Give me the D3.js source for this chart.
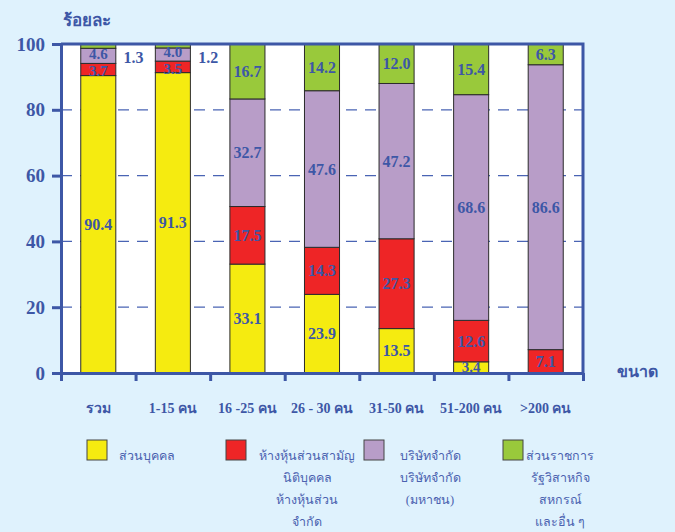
<!DOCTYPE html>
<html>
<head>
<meta charset="utf-8">
<script src="https://cdn.jsdelivr.net/npm/d3@7"></script>
<style>
  body { margin: 0; background: #dff2fd; }
  svg { display: block; }
  .val { font-family: "Liberation Serif", "DejaVu Serif", serif; font-weight: bold; font-size: 16px; fill: #3d57a6; }
  .axis text { font-family: "Liberation Serif", "DejaVu Serif", serif; font-weight: bold; fill: #3d57a6; }
  .legend text { font-family: "Liberation Serif", "Noto Sans", sans-serif; font-size: 12.5px; fill: #4b62b0; }
</style>
</head>
<body>
<div id="chart"></div>
<script>
const categories = ['รวม', '1-15 คน', '16 -25 คน', '26 - 30 คน', '31-50 คน', '51-200 คน', '>200 คน'];
const individual = [90.4, 91.3, 33.1, 23.9, 13.5, 3.4, 0];
const partnership = [3.7, 3.5, 17.5, 14.3, 27.3, 12.6, 7.1];
const company = [4.6, 4.0, 32.7, 47.6, 47.2, 68.6, 86.6];
const government = [1.3, 1.2, 16.7, 14.2, 12.0, 15.4, 6.3];
const yTicks = [0, 20, 40, 60, 80, 100];

const seriesKeys = ['individual', 'partnership', 'company', 'government'];
const seriesColors = ['#f5eb10', '#ee2526', '#b89dc8', '#99c93b'];
const legendLabels = [
    ['ส่วนบุคคล'],
    ['ห้างหุ้นส่วนสามัญ', 'นิติบุคคล', 'ห้างหุ้นส่วน', 'จำกัด'],
    ['บริษัทจำกัด', 'บริษัทจำกัด', '(มหาชน)'],
    ['ส่วนราชการ', 'รัฐวิสาหกิจ', 'สหกรณ์', 'และอื่น ๆ']
];

const rows = categories.map(function(c, i) {
    return {
        cat: c,
        individual: individual[i],
        partnership: partnership[i],
        company: company[i],
        government: government[i]
    };
});

const W = 675, H = 532;
const plotL = 61, plotR = 583, plotT = 44, plotB = 373;
const blue = '#3d57a6';

const svg = d3.select('#chart').append('svg')
    .attr('width', W)
    .attr('height', H);

const x = d3.scaleBand()
    .domain(categories)
    .range([plotL, plotR])
    .paddingInner(0.53)
    .paddingOuter(0.265);

const y = d3.scaleLinear()
    .domain([0, 100])
    .range([plotB, plotT]);

// plot background
svg.append('rect')
    .attr('x', plotL)
    .attr('y', plotT)
    .attr('width', plotR - plotL)
    .attr('height', plotB - plotT)
    .attr('fill', '#ffffff');

// grid
svg.append('g')
    .selectAll('line')
    .data(yTicks.filter(function(t) { return t > 0 && t < 100; }))
    .join('line')
    .attr('x1', plotL)
    .attr('x2', plotR)
    .attr('y1', function(d) { return y(d); })
    .attr('y2', function(d) { return y(d); })
    .attr('stroke', '#4a64b4')
    .attr('stroke-width', 1.2)
    .attr('stroke-dasharray', '11,8');

const stack = d3.stack().keys(seriesKeys);
const layers = stack(rows);

const gLayer = svg.append('g')
    .selectAll('g')
    .data(layers)
    .join('g')
    .attr('fill', function(d, i) { return seriesColors[i]; });

gLayer.selectAll('rect')
    .data(function(d) { return d.filter(function(s) { return s[1] - s[0] > 0; }); })
    .join('rect')
    .attr('x', function(d) { return x(d.data.cat); })
    .attr('y', function(d) { return y(d[1]); })
    .attr('width', x.bandwidth())
    .attr('height', function(d) { return y(d[0]) - y(d[1]); })
    .attr('stroke', '#2b2b2b')
    .attr('stroke-width', 1);

// value labels; tiny segments get their label beside the bar
const minGap = 17;
categories.forEach(function(c, ci) {
    const inBar = [];
    layers.forEach(function(layer) {
        const s = layer[ci];
        const v = s[1] - s[0];
        if (v <= 0) return;
        if (v < 2) {
            svg.append('text')
                .attr('class', 'val')
                .attr('x', x(c) + x.bandwidth() / 2 + x.step() / 2 - 2)
                .attr('y', y(s[1]) + 13)
                .attr('text-anchor', 'middle')
                .attr('dominant-baseline', 'central')
                .text(v.toFixed(1));
            return;
        }
        inBar.push({ v: v, y: y((s[0] + s[1]) / 2), small: v < 6 });
    });
    // spread neighbouring labels that would collide
    for (let i = 1; i < inBar.length; i++) {
        const gap = inBar[i - 1].y - inBar[i].y;
        if (gap < minGap) {
            const d = (minGap - gap) / 2;
            inBar[i - 1].y += d;
            inBar[i].y -= d;
        }
    }
    inBar.forEach(function(l) {
        svg.append('text')
            .attr('class', 'val')
            .attr('x', x(c) + x.bandwidth() / 2)
            .attr('y', l.y)
            .attr('text-anchor', 'middle')
            .attr('dominant-baseline', 'central')
            .style('font-size', l.small ? '15px' : null)
            .text(l.v.toFixed(1));
    });
});

// frame top and right
svg.append('path')
    .attr('d', 'M' + plotL + ',' + plotT + 'H' + plotR + 'V' + plotB)
    .attr('fill', 'none')
    .attr('stroke', blue)
    .attr('stroke-width', 3);

// y axis
const yAxis = svg.append('g')
    .attr('class', 'axis')
    .attr('transform', 'translate(' + plotL + ',0)')
    .call(d3.axisLeft(y).tickValues(yTicks).tickSize(9).tickPadding(7));
yAxis.selectAll('text').style('font-size', '19px');
yAxis.select('.domain').attr('stroke', blue).attr('stroke-width', 3);
yAxis.selectAll('.tick line').attr('stroke', blue).attr('stroke-width', 3);

// x axis tick marks at band boundaries
const xi = d3.scaleLinear().domain([0, categories.length]).range([plotL, plotR]);
const xTickAxis = svg.append('g')
    .attr('transform', 'translate(0,' + plotB + ')')
    .call(d3.axisBottom(xi).ticks(categories.length).tickSize(8).tickSizeOuter(0).tickFormat(''));
xTickAxis.select('.domain').attr('stroke', blue).attr('stroke-width', 3);
xTickAxis.selectAll('.tick line').attr('stroke', blue).attr('stroke-width', 3);

// category labels
const xAxis = svg.append('g')
    .attr('class', 'axis')
    .attr('transform', 'translate(0,' + plotB + ')')
    .call(d3.axisBottom(x).tickSize(0).tickPadding(30));
xAxis.select('.domain').remove();
xAxis.selectAll('text').style('font-size', '14px');

// axis titles
svg.append('text')
    .attr('class', 'val')
    .attr('x', 63)
    .attr('y', 26)
    .style('font-size', '17px')
    .text('ร้อยละ');

svg.append('text')
    .attr('class', 'val')
    .attr('x', 617)
    .attr('y', 377)
    .style('font-size', '16px')
    .text('ขนาด');

// legend
const legendX = [87, 226, 364, 503];
const legendTextX = [119, 307, 430, 560];
const lg = svg.append('g').attr('class', 'legend');
seriesKeys.forEach(function(k, i) {
    lg.append('rect')
        .attr('x', legendX[i])
        .attr('y', 440)
        .attr('width', 20)
        .attr('height', 20)
        .attr('fill', seriesColors[i])
        .attr('stroke', '#444')
        .attr('stroke-width', 1);
    const t = lg.append('text')
        .attr('text-anchor', i === 0 ? 'start' : 'middle');
    legendLabels[i].forEach(function(line, j) {
        t.append('tspan')
            .attr('x', legendTextX[i])
            .attr('y', 460 + j * 22)
            .text(line);
    });
});
</script>
</body>
</html>
